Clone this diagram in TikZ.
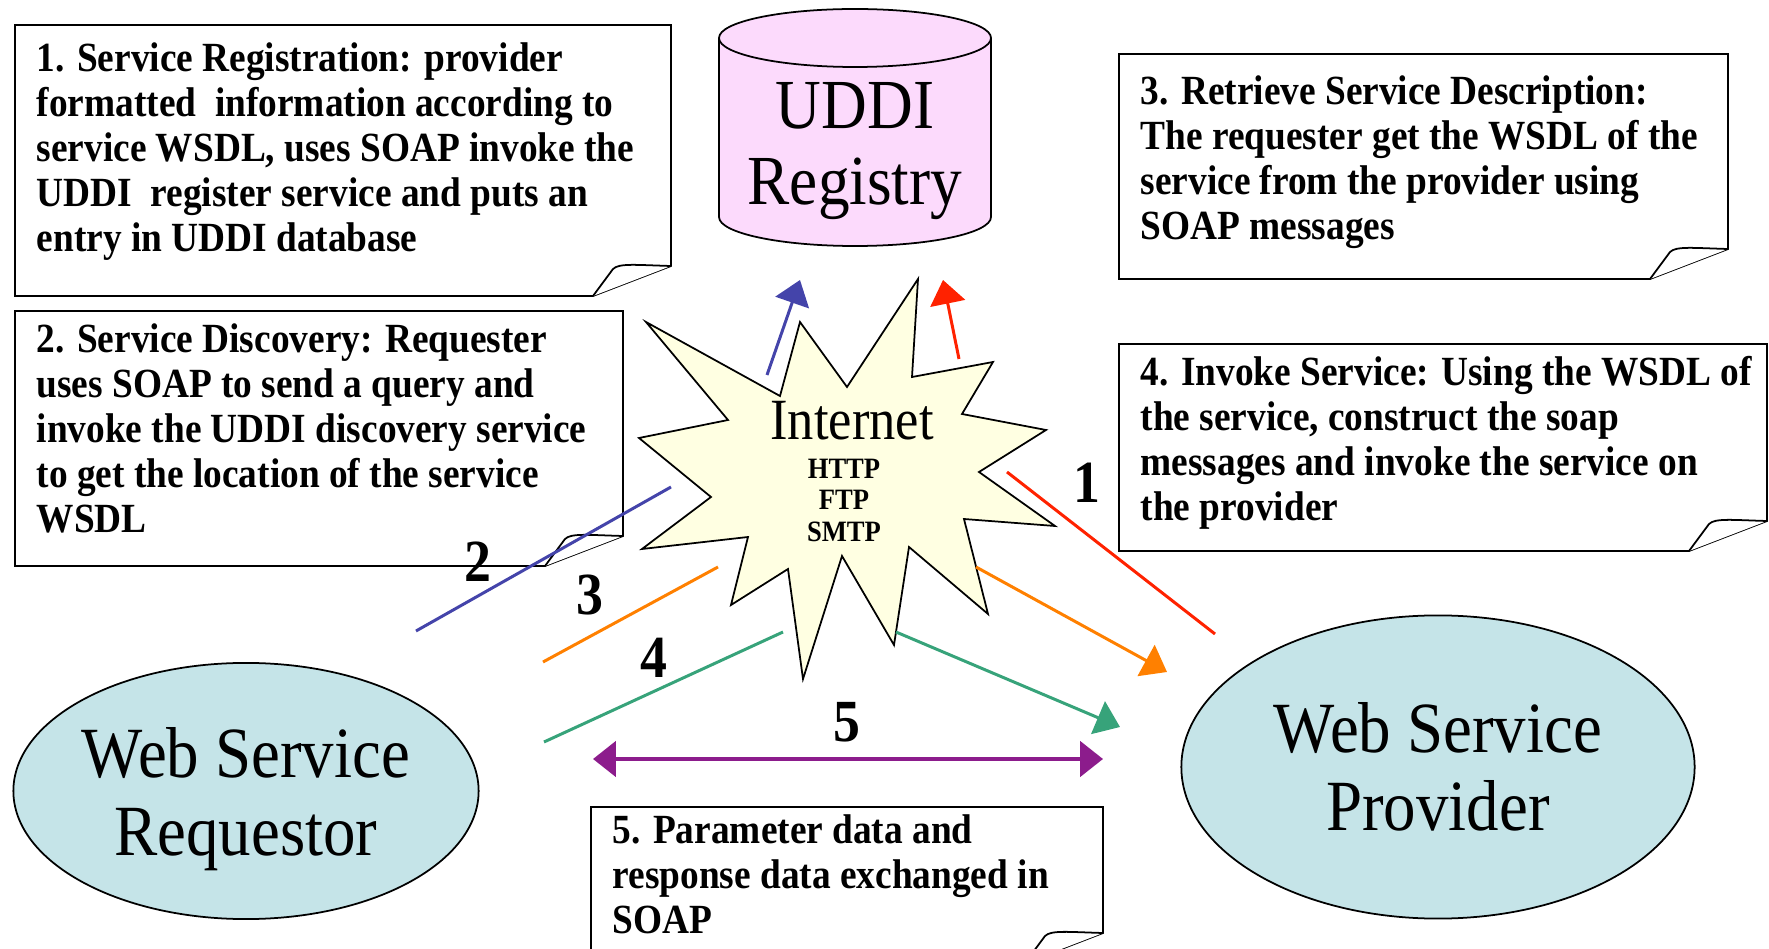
\documentclass[tikz,border=0pt]{standalone}
\usepackage{fontspec}
\setmainfont{Liberation Serif}[FakeStretch=0.9]
\usetikzlibrary{arrows.meta,shapes.geometric}

\definecolor{uddipink}{RGB}{252,218,252}
\definecolor{wsblue}{RGB}{197,228,232}
\definecolor{netyellow}{RGB}{255,255,226}
\definecolor{lineblue}{RGB}{68,68,170}
\definecolor{linered}{RGB}{255,34,0}
\definecolor{lineorange}{RGB}{255,128,0}
\definecolor{linegreen}{RGB}{55,163,122}
\definecolor{linepurple}{RGB}{140,28,140}

\tikzset{
	notebox/.style={draw=black, line width=0.5pt, fill=white},
	notetext/.style={anchor=north west, inner sep=0pt, align=left, font=\fontsize{11.8}{12.8}\selectfont\bfseries},
	bigtext/.style={align=center, font=\fontsize{20.5}{22}\selectfont},
	wsnode/.style={ellipse, draw, line width=0.5pt, fill=wsblue, inner sep=0pt, bigtext},
	digit/.style={inner sep=0pt, font=\fontsize{17}{17}\selectfont\bfseries},
	flow/.style={line width=0.85pt},
	flowtip/.style={-{Triangle[length=6.8pt,width=10pt]}},
}

\begin{document}
\begin{tikzpicture}[x=0.01cm, y=-0.01cm]
	\useasboundingbox (0,0) rectangle (1769,949);

	% notes
	\draw[notebox] (15,25) -- (671,25) -- (671,266) -- (593,296) -- (15,296) -- cycle;
	\draw[notebox] (593,296) -- (613,269) .. controls (619,263) and (636,265) .. (671,266);
	\draw[notebox] (15,311) -- (623,311) -- (623,536) -- (545,566) -- (15,566) -- cycle;
	\draw[notebox] (545,566) -- (565,539) .. controls (571,533) and (588,535) .. (623,536);
	\draw[notebox] (1119,54) -- (1728,54) -- (1728,249) -- (1650,279) -- (1119,279) -- cycle;
	\draw[notebox] (1650,279) -- (1670,252) .. controls (1676,246) and (1693,248) .. (1728,249);
	\draw[notebox] (1119,344) -- (1767,344) -- (1767,521) -- (1689,551) -- (1119,551) -- cycle;
	\draw[notebox] (1689,551) -- (1709,524) .. controls (1715,518) and (1732,520) .. (1767,521);
	\draw[notebox] (591,807) -- (1103,807) -- (1103,933) -- (1025,963) -- (591,963) -- cycle;
	\draw[notebox] (1025,963) -- (1045,936) .. controls (1051,930) and (1068,932) .. (1103,933);

	\node[notetext] (regtext) at (36,42) {1. Service Registration: provider\\formatted\ \ information according to\\service WSDL, uses SOAP invoke the\\UDDI\ \ register service and puts an\\entry in UDDI database};
	\node[notetext] (disctext) at (36,323) {2. Service Discovery: Requester\\uses SOAP to send a query and\\invoke the UDDI discovery service\\to get the location of the service\\WSDL};
	\node[notetext] (retrtext) at (1140,75) {3. Retrieve Service Description:\\The requester get the WSDL of the\\service from the provider using\\SOAP messages};
	\node[notetext] (invtext) at (1140,356) {4. Invoke Service: Using the WSDL of\\the service, construct the soap\\messages and invoke the service on\\the provider};
	\node[notetext] (datatext) at (612,814) {5. Parameter data and\\response data exchanged in\\SOAP};

	% registry
	\draw[line width=0.5pt, fill=uddipink] (719,38) -- (719,217) arc[start angle=180, end angle=0, x radius=136, y radius=29] -- (991,38);
	\draw[line width=0.5pt, fill=uddipink] (855,38) ellipse [x radius=136, y radius=29];
	\node[bigtext, inner sep=0pt, font=\fontsize{20}{21.6}\selectfont] (uddi) at (855,151) {UDDI\\Registry};

	% internet
	\draw[line width=0.5pt, fill=netyellow] (646,322) -- (780,396) -- (800,322) -- (847,387) -- (918,279) -- (912,377)
		-- (993,362) -- (962,414) -- (1046,430) -- (979,472) -- (1055,526) -- (964,519)
		-- (988,614) -- (909,547) -- (894,645) -- (842,556) -- (803,679) -- (788,569)
		-- (731,605) -- (748,537) -- (642,549) -- (711,497) -- (639,438) -- (728,420) -- cycle;
	\node[anchor=base, inner sep=0pt, font=\fontsize{16.6}{18}\selectfont] (net) at (852,440) {Internet};
	\node[anchor=north, inner sep=0pt, align=center, font=\fontsize{8.4}{9}\selectfont\bfseries] (proto) at (844,458) {HTTP\\FTP\\SMTP};

	% services
	\node[wsnode, minimum width=4.65cm, minimum height=2.56cm] (req) at (246,791) {\rule{0pt}{18.8pt}Web Service\\Requestor};
	\node[wsnode, minimum width=5.13cm, minimum height=3.03cm] (prov) at (1438,767) {Web Service\\Provider};

	% flows
	\coordinate (b1) at (416,631);  \coordinate (b2) at (671,487);
	\coordinate (b3) at (767,375);  \coordinate (b4) at (800,280);
	\coordinate (r1) at (1215,634); \coordinate (r2) at (1007,472);
	\coordinate (r3) at (959,359);  \coordinate (r4) at (943,280);
	\coordinate (o1) at (543,662);  \coordinate (o2) at (718,567);
	\coordinate (o3) at (976,567);  \coordinate (o4) at (1167,672);
	\coordinate (g1) at (544,742);  \coordinate (g2) at (783,632);
	\coordinate (g3) at (896,632);  \coordinate (g4) at (1120,727);
	\coordinate (p1) at (593,759);  \coordinate (p2) at (1103,759);

	\draw[flow, lineblue] (b1) -- (b2);
	\draw[flow, flowtip, lineblue] (b3) -- (b4);
	\draw[flow, linered] (r1) -- (r2);
	\draw[flow, flowtip, linered] (r3) -- (r4);
	\draw[flow, lineorange] (o1) -- (o2);
	\draw[flow, flowtip, lineorange] (o3) -- (o4);
	\draw[flow, linegreen] (g1) -- (g2);
	\draw[flow, flowtip, linegreen] (g3) -- (g4);
	\draw[line width=1.1pt, linepurple, {Triangle[length=6.5pt,width=10pt]}-{Triangle[length=6.5pt,width=10pt]}] (p1) -- (p2);

	\node[digit] (n1) at (1087,483) {1};
	\node[digit] (n2) at (478,562) {2};
	\node[digit] (n3) at (590,595) {3};
	\node[digit] (n4) at (654,658) {4};
	\node[digit] (n5) at (847,722) {5};
\end{tikzpicture}
\end{document}
